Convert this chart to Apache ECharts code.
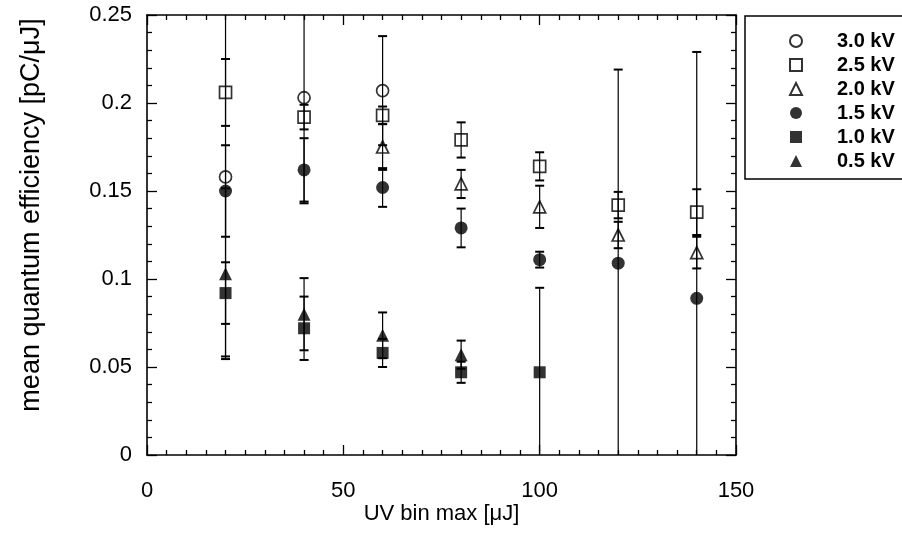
<!DOCTYPE html>
<html>
<head>
<meta charset="utf-8">
<script src="https://cdn.jsdelivr.net/npm/echarts@6/dist/echarts.min.js"></script>
<style>
  html, body { margin: 0; padding: 0; background: #ffffff; }
  #chart { width: 902px; height: 536px; }
</style>
</head>
<body>
<div id="chart"></div>
<script>
// UV bin upper edges [µJ]
const uvBinMax = [20, 40, 60, 80, 100, 120, 140];

// Mean quantum efficiency [pC/µJ] per bias voltage, with ± errors (null = no point)
const qe30 = [0.158, 0.203, 0.207, null, null, null, null];
const er30 = [0.102, 0.060, 0.031, null, null, null, null];

const qe25 = [0.206, 0.192, 0.193, 0.179, 0.164, 0.142, 0.138];
const er25 = [0.019, 0.007, 0.005, 0.010, 0.008, 0.0075, 0.013];

const qe20 = [null, null, 0.175, 0.154, 0.141, 0.125, 0.115];
const er20 = [null, null, 0.013, 0.008, 0.012, 0.0075, 0.009];

const qe15 = [0.150, 0.162, 0.152, 0.129, 0.111, 0.109, 0.089];
const er15 = [0.026, 0.018, 0.011, 0.011, 0.0045, 0.110, 0.140];

const qe10 = [0.092, 0.072, 0.058, 0.047, 0.047, null, null];
const er10 = [0.0175, 0.018, 0.008, 0.006, 0.048, null, null];

const qe05 = [0.103, 0.080, 0.068, 0.057, null, null, null];
const er05 = [0.0485, 0.0205, 0.013, 0.008, null, null, null];

const seriesDefs = [
  { name: '3.0 kV', values: qe30, errors: er30, symbol: 'circle', filled: false, size: 12 },
  { name: '2.5 kV', values: qe25, errors: er25, symbol: 'rect', filled: false, size: 12 },
  { name: '2.0 kV', values: qe20, errors: er20, symbol: 'triangle', filled: false, size: 12 },
  { name: '1.5 kV', values: qe15, errors: er15, symbol: 'circle', filled: true, size: 13 },
  { name: '1.0 kV', values: qe10, errors: er10, symbol: 'rect', filled: true, size: 12 },
  { name: '0.5 kV', values: qe05, errors: er05, symbol: 'triangle', filled: true, size: 13 }
];

const X_MIN = 0, X_MAX = 150, Y_MIN = 0, Y_MAX = 0.25;
const FONT = '"Liberation Sans", Arial, Helvetica, sans-serif';

// Vertical error bar with short caps, clipped to the plot range
function renderErrorBar(params, api) {
  const x = api.value(0);
  const lo = api.value(1);
  const hi = api.value(2);
  const top = api.coord([x, Math.min(hi, Y_MAX)]);
  const bot = api.coord([x, Math.max(lo, Y_MIN)]);
  const hw = 4.5;
  const children = [{
    type: 'line',
    shape: { x1: top[0], y1: top[1], x2: bot[0], y2: bot[1] },
    style: { stroke: '#000', lineWidth: 1.2 }
  }];
  if (hi <= Y_MAX) {
    children.push({ type: 'line', shape: { x1: top[0] - hw, y1: top[1], x2: top[0] + hw, y2: top[1] },
      style: { stroke: '#000', lineWidth: 2 } });
  }
  if (lo >= Y_MIN) {
    children.push({ type: 'line', shape: { x1: bot[0] - hw, y1: bot[1], x2: bot[0] + hw, y2: bot[1] },
      style: { stroke: '#000', lineWidth: 2 } });
  }
  return { type: 'group', children: children };
}

const series = [];
seriesDefs.forEach(function (d) {
  const errData = [];
  const ptData = [];
  uvBinMax.forEach(function (x, i) {
    if (d.values[i] == null) return;
    ptData.push([x, d.values[i]]);
    errData.push([x, d.values[i] - d.errors[i], d.values[i] + d.errors[i]]);
  });
  series.push({
    type: 'custom',
    name: d.name + ' err',
    renderItem: renderErrorBar,
    data: errData,
    encode: { x: 0, y: [1, 2] },
    z: 2,
    silent: true
  });
  series.push({
    type: 'scatter',
    name: d.name,
    data: ptData,
    symbol: d.symbol,
    symbolSize: d.size,
    itemStyle: d.filled
      ? { color: '#000', borderColor: '#000', borderWidth: 0 }
      : { color: 'rgba(255,255,255,0)', borderColor: '#000', borderWidth: 1.7 },
    z: 3
  });
});

const tickLine = { color: '#000', width: 1.3 };
const axisLine = { show: true, onZero: false, lineStyle: { color: '#000', width: 1.6 } };

function xAxisCfg(pos, labels) {
  return {
    type: 'value', gridIndex: 0, position: pos, min: X_MIN, max: X_MAX, interval: 50,
    axisLine: axisLine,
    axisTick: { show: true, inside: true, length: 10, lineStyle: tickLine },
    minorTick: { show: true, splitNumber: 10, length: 5, lineStyle: tickLine },
    splitLine: { show: false },
    axisLabel: { show: labels, color: '#000', fontFamily: FONT, fontSize: 22, margin: 25 },
    name: labels ? 'UV bin max [μJ]' : '',
    nameLocation: 'middle', nameGap: 48, nameMoveOverlap: false,
    nameTextStyle: { color: '#000', fontFamily: FONT, fontSize: 22 }
  };
}
function yAxisCfg(pos, labels) {
  return {
    type: 'value', gridIndex: 0, position: pos, min: Y_MIN, max: Y_MAX, interval: 0.05,
    axisLine: axisLine,
    axisTick: { show: true, inside: true, length: 10, lineStyle: tickLine },
    minorTick: { show: true, splitNumber: 5, length: 5, lineStyle: tickLine },
    splitLine: { show: false },
    axisLabel: { show: labels, color: '#000', fontFamily: FONT, fontSize: 22, margin: 15 },
    name: labels ? 'mean quantum efficiency [pC/μJ]' : '',
    nameLocation: 'middle', nameGap: 102, nameMoveOverlap: false,
    nameTextStyle: { color: '#000', fontFamily: FONT, fontSize: 27, padding: [0, 0, 0, 40] }
  };
}

const chart = echarts.init(document.getElementById('chart'), null, { renderer: 'canvas' });
chart.setOption({
  backgroundColor: '#ffffff',
  animation: false,
  grid: { left: 147, right: 166, top: 15, bottom: 81, containLabel: false },
  xAxis: [xAxisCfg('bottom', true), xAxisCfg('top', false)],
  yAxis: [yAxisCfg('left', true), yAxisCfg('right', false)],
  legend: {
    data: seriesDefs.map(function (d) { return d.name; }),
    orient: 'vertical',
    left: 745, top: 16,
    padding: [15, 60, 8, 44],
    itemWidth: 12, itemHeight: 12, itemGap: 4,
    backgroundColor: '#fff',
    borderColor: '#000', borderWidth: 1.5, borderRadius: 0,
    textStyle: { color: '#000', fontFamily: FONT, fontSize: 20, fontWeight: 'bold',
      lineHeight: 16, padding: [0, 0, 0, 30] }
  },
  series: series
});
</script>
</body>
</html>
